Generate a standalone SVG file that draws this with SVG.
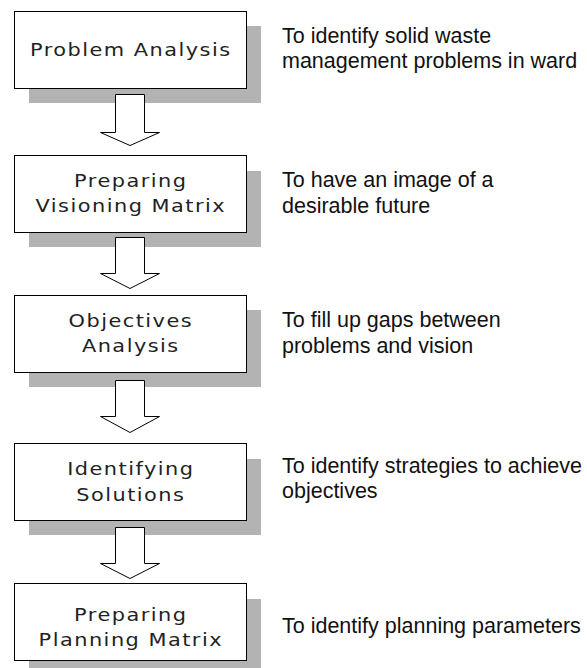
<svg xmlns="http://www.w3.org/2000/svg" width="587" height="668" viewBox="0 0 587 668">
<style>
.shadow{fill:#b3b3b3;stroke:none}
.box{fill:#fff;stroke:#000;stroke-width:1}
.lbl{font-family:"DejaVu Sans",Verdana,sans-serif;font-size:18.5px;fill:#222;text-anchor:middle;letter-spacing:1.3px}
.note{font-family:"Liberation Sans",Arial,sans-serif;font-size:21.5px;fill:#111}
.arr{fill:#fff;stroke:#000;stroke-width:1}
</style>
<rect width="587" height="668" fill="#fff"/>
<g id="node1">
<rect class="shadow" x="29" y="26" width="232" height="77"/>
<rect class="box" x="14.5" y="11.5" width="232" height="77"/>
<g transform="translate(130.8 0) scale(1.13 1)"><text class="lbl" x="0" y="56">Problem Analysis</text></g>
</g>
<g id="note1">
<text class="note" x="282" y="43">To identify solid waste</text>
<text class="note" x="282" y="68">management problems in ward</text>
</g>
<g id="node2">
<rect class="shadow" x="29" y="171" width="232" height="76"/>
<rect class="box" x="14.5" y="155.5" width="232" height="77"/>
<g transform="translate(130.8 0) scale(1.13 1)"><text class="lbl" x="0" y="187">Preparing</text>
<text class="lbl" x="0" y="212">Visioning Matrix</text></g>
</g>
<g id="note2">
<text class="note" x="282" y="187">To have an image of a</text>
<text class="note" x="282" y="213">desirable future</text>
</g>
<g id="node3">
<rect class="shadow" x="29" y="310" width="232" height="77"/>
<rect class="box" x="14.5" y="295.5" width="232" height="77"/>
<g transform="translate(130.8 0) scale(1.13 1)"><text class="lbl" x="0" y="327">Objectives</text>
<text class="lbl" x="0" y="352">Analysis</text></g>
</g>
<g id="note3">
<text class="note" x="282" y="327">To fill up gaps between</text>
<text class="note" x="282" y="353">problems and vision</text>
</g>
<g id="node4">
<rect class="shadow" x="29" y="459" width="232" height="76"/>
<rect class="box" x="14.5" y="443.5" width="232" height="77"/>
<g transform="translate(130.8 0) scale(1.13 1)"><text class="lbl" x="0" y="475">Identifying</text>
<text class="lbl" x="0" y="501">Solutions</text></g>
</g>
<g id="note4">
<text class="note" x="282" y="473">To identify strategies to achieve</text>
<text class="note" x="282" y="498">objectives</text>
</g>
<g id="node5">
<rect class="shadow" x="29" y="599" width="232" height="69"/>
<rect class="box" x="14.5" y="583.5" width="232" height="77"/>
<g transform="translate(130.8 0) scale(1.13 1)"><text class="lbl" x="0" y="621">Preparing</text>
<text class="lbl" x="0" y="646">Planning Matrix</text></g>
</g>
<g id="note5">
<text class="note" x="282" y="633">To identify planning parameters</text>
</g>
<g id="connectors">
<polygon class="arr" points="115.5,94.5 144.5,94.5 144.5,132.5 159.5,132.5 130,145.5 100.5,132.5 115.5,132.5"/>
<polygon class="arr" points="115.5,237.5 144.5,237.5 144.5,273.5 159.5,273.5 130,288.5 100.5,273.5 115.5,273.5"/>
<polygon class="arr" points="115.5,380.5 144.5,380.5 144.5,416.5 159.5,416.5 130,432.5 100.5,416.5 115.5,416.5"/>
<polygon class="arr" points="115.5,527.5 144.5,527.5 144.5,563.5 159.5,563.5 130,578.5 100.5,563.5 115.5,563.5"/>
</g>
</svg>
